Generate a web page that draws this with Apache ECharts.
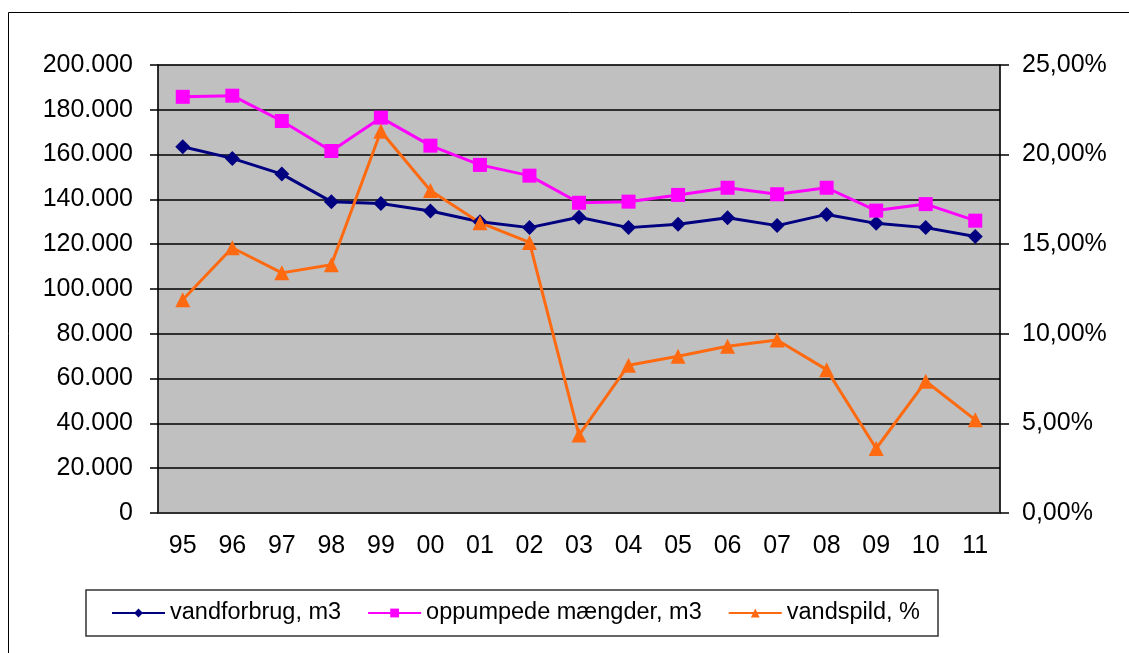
<!DOCTYPE html>
<html>
<head>
<meta charset="utf-8">
<script src="https://cdn.jsdelivr.net/npm/echarts@6/dist/echarts.min.js"></script>
<style>
  html, body { margin: 0; padding: 0; background: #fff; }
  #chart { width: 1129px; height: 653px; }
</style>
</head>
<body>
<div id="chart"></div>
<script>
// aar (x-akse)
const years = ['95', '96', '97', '98', '99', '00', '01', '02', '03', '04', '05', '06', '07', '08', '09', '10', '11'];
// m3
const vandforbrug = [163500, 158300, 151300, 139000, 138200, 134800, 130000, 127400, 132000, 127400, 128900, 131800, 128300, 133300, 129300, 127400, 123400];
const oppumpede = [185800, 186300, 175000, 161600, 176500, 164000, 155400, 150600, 138500, 139000, 142000, 145200, 142300, 145200, 135000, 137900, 130500];
// procent
const vandspild = [11.9, 14.8, 13.4, 13.85, 21.3, 18.0, 16.2, 15.1, 4.35, 8.25, 8.75, 9.3, 9.65, 8.0, 3.6, 7.35, 5.2];

const chart = echarts.init(document.getElementById('chart'));

const font = 'Liberation Sans, Arial, sans-serif';

const option = {
  backgroundColor: '#fff',
  animation: false,
  textStyle: { fontFamily: font },
  graphic: [
    {
      // ramme om hele diagrammet
      type: 'rect',
      left: 6,
      top: 10,
      shape: { width: 1200, height: 800 },
      style: { fill: 'none', stroke: '#000', lineWidth: 1 },
      silent: true
    }
  ],
  grid: {
    left: 158,
    right: 129,
    top: 65,
    bottom: 140,
    show: true,
    backgroundColor: '#C0C0C0',
    borderColor: '#808080',
    borderWidth: 1
  },
  legend: {
    left: 86,
    top: 590,
    padding: [11, 18, 11, 25],
    itemGap: 26,
    itemWidth: 53,
    itemHeight: 11,
    borderColor: '#333',
    borderWidth: 1.5,
    textStyle: { fontFamily: font, fontSize: 23.5, color: '#000' },
    data: ['vandforbrug, m3', 'oppumpede mængder, m3', 'vandspild, %']
  },
  xAxis: {
    type: 'category',
    data: years,
    boundaryGap: true,
    axisLine: { lineStyle: { color: '#333', width: 1.5 } },
    axisTick: { length: 8, lineStyle: { color: '#000', width: 1.5 } },
    axisLabel: { fontSize: 25, color: '#000', margin: 21, fontFamily: font }
  },
  yAxis: [
    {
      type: 'value',
      min: 0,
      max: 200000,
      interval: 20000,
      axisLine: { show: true, lineStyle: { color: '#000', width: 1.5 } },
      axisTick: { show: true, length: 8, lineStyle: { color: '#000', width: 1.5 } },
      splitLine: { lineStyle: { color: '#000', width: 1.5 } },
      axisLabel: {
        fontSize: 25,
        color: '#000',
        margin: 25,
        fontFamily: font,
        formatter: v => v === 0 ? '0' : v.toLocaleString('de-DE')
      }
    },
    {
      type: 'value',
      min: 0,
      max: 25,
      interval: 5,
      position: 'right',
      axisLine: { show: true, lineStyle: { color: '#000', width: 1.5 } },
      axisTick: { show: true, length: 9, lineStyle: { color: '#000', width: 1.5 } },
      splitLine: { show: false },
      axisLabel: {
        fontSize: 25,
        color: '#000',
        margin: 22,
        fontFamily: font,
        formatter: v => v.toFixed(2).replace('.', ',') + '%'
      }
    }
  ],
  series: [
    {
      name: 'vandforbrug, m3',
      type: 'line',
      yAxisIndex: 0,
      data: vandforbrug,
      symbol: 'diamond',
      symbolSize: 15,
      lineStyle: { color: '#000080', width: 3 },
      itemStyle: { color: '#000080' }
    },
    {
      name: 'oppumpede mængder, m3',
      type: 'line',
      yAxisIndex: 0,
      data: oppumpede,
      symbol: 'rect',
      symbolSize: 14,
      lineStyle: { color: '#FF00FF', width: 3 },
      itemStyle: { color: '#FF00FF' }
    },
    {
      name: 'vandspild, %',
      type: 'line',
      yAxisIndex: 1,
      data: vandspild,
      symbol: 'triangle',
      symbolSize: 15,
      lineStyle: { color: '#FF6A10', width: 3 },
      itemStyle: { color: '#FF6A10' }
    }
  ]
};

chart.setOption(option);
</script>
</body>
</html>
